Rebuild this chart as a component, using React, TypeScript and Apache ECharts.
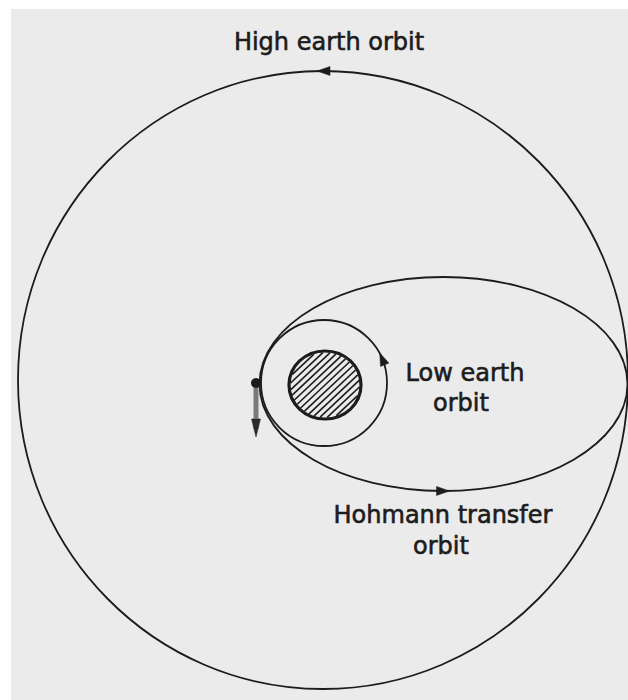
import React, { useEffect, useRef } from "react";
import * as echarts from "echarts";

// Orbit geometry (Earth-centred diagram units, y up)
const ORBIT_NAMES = ["Earth", "Low earth orbit", "Hohmann transfer orbit", "High earth orbit"];
const ORBIT_CX = [0, -1, 118.5, -2];
const ORBIT_CY = [0, 2, 1, 5];
const ORBIT_RX = [36, 63, 184, 305];
const ORBIT_RY = [34, 63, 107, 309];

// Direction arrows on orbits: orbit index and angle (deg) on the orbit
const ARROW_ORBIT = [1, 2, 3];
const ARROW_ANGLE = [23, 270, 90];

// Satellite and its velocity vector
const SAT_POS = [-69, 2];
const SAT_VEL_END = [-69, -52];

// Labels
const LABEL_TEXT = ["High earth orbit", "Low earth", "orbit", "Hohmann transfer", "orbit"];
const LABEL_X = [4, 140, 136, 118, 116];
const LABEL_Y = [343, 12, -18, -130, -161];

const X_MIN = -325;
const X_MAX = 303;
const Y_MIN = -315;
const Y_MAX = 385;
const INK = "#1c1c1c";

export default function App() {
  const ref = useRef<HTMLDivElement>(null);
  useEffect(() => {
    if (!ref.current) return;
    const chart = echarts.init(ref.current, undefined, { renderer: "svg" });

    const orbitData = ORBIT_NAMES.map((n, i) => ({
      name: n,
      value: [ORBIT_CX[i], ORBIT_CY[i], ORBIT_RX[i], ORBIT_RY[i]],
    }));
    const arrowData = ARROW_ORBIT.map((o, i) => ({
      name: ORBIT_NAMES[o],
      value: [ORBIT_CX[o], ORBIT_CY[o], ORBIT_RX[o], ORBIT_RY[o], ARROW_ANGLE[i]],
    }));

    const tri = (tip: number[], ux: number, uy: number, len: number, half: number) => {
      const bx = tip[0] - ux * len;
      const by = tip[1] - uy * len;
      const px = -uy;
      const py = ux;
      return [
        [tip[0], tip[1]],
        [bx + px * half, by + py * half],
        [bx - px * half, by - py * half],
      ];
    };

    chart.setOption({
      animation: false,
      grid: { left: 0, right: 0, top: 0, bottom: 0, containLabel: false },
      xAxis: { type: "value", min: X_MIN, max: X_MAX, show: false },
      yAxis: { type: "value", min: Y_MIN, max: Y_MAX, show: false },
      graphic: LABEL_TEXT.map((t, i) => ({
        type: "text",
        z: 10,
        style: {
          text: t,
          x: LABEL_X[i] - X_MIN,
          y: Y_MAX - LABEL_Y[i],
          fill: INK,
          stroke: INK,
          lineWidth: 0.6,
          font: '24px "DejaVu Sans"',
          textAlign: "center",
          textVerticalAlign: "middle",
        },
      })),
      series: [
        {
          type: "custom",
          name: "orbits",
          coordinateSystem: "cartesian2d",
          clip: false,
          silent: true,
          data: orbitData,
          renderItem: (params: any, api: any) => {
            const c = api.coord([api.value(0), api.value(1)]);
            const s = api.size([api.value(2), api.value(3)]);
            const isEarth = params.dataIndex === 0;
            return {
              type: "ellipse",
              shape: { cx: c[0], cy: c[1], rx: s[0], ry: s[1] },
              style: { fill: "none", stroke: INK, lineWidth: isEarth ? 3.2 : 1.8 },
            };
          },
        },
        {
          type: "custom",
          name: "earth hatching",
          coordinateSystem: "cartesian2d",
          clip: false,
          silent: true,
          data: [orbitData[0]],
          renderItem: (params: any, api: any) => {
            const cx = api.value(0);
            const cy = api.value(1);
            const rx = api.value(2) - 1.5;
            const ry = api.value(3) - 1.5;
            const children: any[] = [];
            const r2 = Math.SQRT1_2;
            for (let k = -6; k <= 6; k++) {
              const sOff = k * 0.15;
              const t = Math.sqrt(Math.max(0, 1 - sOff * sOff));
              const nx = sOff * r2;
              const ny = -sOff * r2;
              const a = api.coord([cx + (nx - t * r2) * rx, cy + (ny - t * r2) * ry]);
              const b = api.coord([cx + (nx + t * r2) * rx, cy + (ny + t * r2) * ry]);
              children.push({
                type: "line",
                shape: { x1: a[0], y1: a[1], x2: b[0], y2: b[1] },
                style: { stroke: INK, lineWidth: 1.6 },
              });
            }
            return { type: "group", children };
          },
        },
        {
          type: "custom",
          name: "orbit direction",
          coordinateSystem: "cartesian2d",
          clip: false,
          silent: true,
          data: arrowData,
          renderItem: (params: any, api: any) => {
            const cx = api.value(0);
            const cy = api.value(1);
            const rx = api.value(2);
            const ry = api.value(3);
            const th = (api.value(4) * Math.PI) / 180;
            const p = api.coord([cx + rx * Math.cos(th), cy + ry * Math.sin(th)]);
            let tx = -rx * Math.sin(th);
            let ty = -ry * Math.cos(th);
            const L = Math.hypot(tx, ty);
            tx /= L;
            ty /= L;
            const tip = [p[0] + tx * 6, p[1] + ty * 6];
            return {
              type: "polygon",
              shape: { points: tri(tip, tx, ty, 13, 4.5) },
              style: { fill: INK, stroke: INK, lineWidth: 0.5 },
            };
          },
        },
        {
          type: "custom",
          name: "satellite",
          coordinateSystem: "cartesian2d",
          clip: false,
          silent: true,
          data: [{ name: "satellite", value: [SAT_POS[0], SAT_POS[1], SAT_VEL_END[0], SAT_VEL_END[1]] }],
          renderItem: (params: any, api: any) => {
            const p = api.coord([api.value(0), api.value(1)]);
            const e = api.coord([api.value(2), api.value(3)]);
            let ux = e[0] - p[0];
            let uy = e[1] - p[1];
            const L = Math.hypot(ux, uy);
            ux /= L;
            uy /= L;
            return {
              type: "group",
              children: [
                {
                  type: "line",
                  shape: { x1: p[0], y1: p[1], x2: e[0] - ux * 8, y2: e[1] - uy * 8 },
                  style: { stroke: "#7a7a7a", lineWidth: 5 },
                },
                {
                  type: "polygon",
                  shape: { points: tri(e, ux, uy, 18, 4.5) },
                  style: { fill: "#2a2a2a", stroke: "#2a2a2a", lineWidth: 0.5 },
                },
                {
                  type: "circle",
                  shape: { cx: p[0], cy: p[1], r: 5 },
                  style: { fill: INK },
                },
              ],
            };
          },
        },
      ],
    });
    return () => chart.dispose();
  }, []);

  return (
    <div style={{ position: "absolute", left: 0, top: 0, width: 628, height: 700, background: "#ffffff" }}>
      <div
        style={{ position: "absolute", left: 11, top: 9, width: 617, height: 691, background: "#ebebeb" }}
      />
      <div ref={ref} style={{ position: "absolute", left: 0, top: 0, width: 628, height: 700 }} />
    </div>
  );
}
